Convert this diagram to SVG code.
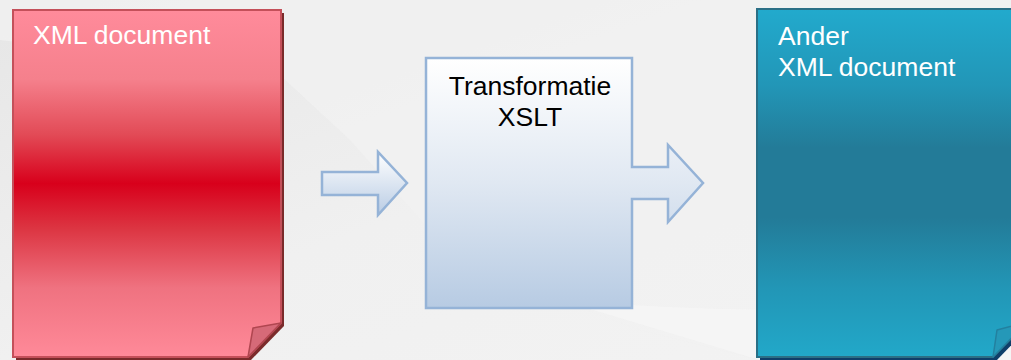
<svg xmlns="http://www.w3.org/2000/svg" width="1011" height="360" viewBox="0 0 1011 360">
  <defs>
    <linearGradient id="bg" x1="0" y1="0" x2="1" y2="1">
      <stop offset="0" stop-color="#e6e6e6"/>
      <stop offset="0.5" stop-color="#f0f0f0"/>
      <stop offset="1" stop-color="#f3f3f3"/>
    </linearGradient>
    <linearGradient id="redG" gradientUnits="userSpaceOnUse" x1="0" y1="10" x2="0" y2="357">
      <stop offset="0" stop-color="#ff8b9b"/>
      <stop offset="0.2" stop-color="#f5808c"/>
      <stop offset="0.36" stop-color="#e24a56"/>
      <stop offset="0.5" stop-color="#d8001b"/>
      <stop offset="0.63" stop-color="#dc3542"/>
      <stop offset="0.8" stop-color="#ef7280"/>
      <stop offset="1" stop-color="#ff8a99"/>
    </linearGradient>
    <linearGradient id="blueG" gradientUnits="userSpaceOnUse" x1="0" y1="9" x2="0" y2="357">
      <stop offset="0" stop-color="#22aacd"/>
      <stop offset="0.22" stop-color="#2296b7"/>
      <stop offset="0.4" stop-color="#237b98"/>
      <stop offset="0.6" stop-color="#237b98"/>
      <stop offset="0.8" stop-color="#2296b6"/>
      <stop offset="1" stop-color="#22a8c9"/>
    </linearGradient>
    <linearGradient id="boxG" gradientUnits="userSpaceOnUse" x1="0" y1="58" x2="0" y2="308">
      <stop offset="0" stop-color="#ffffff"/>
      <stop offset="0.5" stop-color="#e0e8f2"/>
      <stop offset="1" stop-color="#b7cbe3"/>
    </linearGradient>
    <linearGradient id="arrG" gradientUnits="userSpaceOnUse" x1="0" y1="152" x2="0" y2="215">
      <stop offset="0" stop-color="#ffffff"/>
      <stop offset="1" stop-color="#b9cce4"/>
    </linearGradient>
    <style>
      .lbl { font-family: "Liberation Sans", Arial, sans-serif; font-size: 26.5px; }
      .white { fill: #ffffff; }
      .dark { fill: #000000; }
      .boxline { stroke: #95b3d7; stroke-width: 2.5; stroke-linejoin: miter; }
    </style>
  </defs>

  <!-- background -->
  <rect x="0" y="0" width="1011" height="360" fill="url(#bg)"/>
  <polygon points="0,0 1011,0 1011,360 760,360 640,330 560,300 470,260 430,230 350,140 280,75 0,40" fill="#f1f1f1" opacity="0.8"/>
  <path d="M560,300 Q660,330 760,360 L1011,360 L1011,300 Q800,320 560,300 Z" fill="#f6f6f6" opacity="0.7"/>

  <!-- red document -->
  <g id="xml-document">
    <path d="M16,13 H284 V326 L251,360 H16 Z" fill="#7a2b2b"/>
    <path d="M13,10 H281 V323 L248,357 H13 Z" fill="url(#redG)" stroke="#c4505a" stroke-width="2"/>
    <path d="M281,323 L253,328 L248,357 Z" fill="#d66a78" stroke="#b04650" stroke-width="1.5" stroke-linejoin="round"/>
    <text class="lbl white" x="33" y="44">XML document</text>
  </g>

  <!-- connectors -->
  <g id="connectors">
    <path d="M322,172 H378 V152 L407,183 L378,215 V195 H322 Z" fill="url(#arrG)" class="boxline"/>
  </g>

  <!-- transformation box (with outgoing arrow) -->
  <g id="transformatie">
    <path d="M426,58 H632 V167 H668 V145 L703,183 L668,222 V199 H632 V308 H426 Z" fill="url(#boxG)" class="boxline"/>
    <text class="lbl dark" x="530" y="95" text-anchor="middle">Transformatie</text>
    <text class="lbl dark" x="530" y="126" text-anchor="middle">XSLT</text>
  </g>

  <!-- blue document -->
  <g id="ander-xml-document">
    <path d="M760,12 H1030 V326 L996,361 H760 Z" fill="#0f3f6a"/>
    <path d="M757,9 H1027 V322 L993,357 H757 Z" fill="url(#blueG)" stroke="#2b6f86" stroke-width="2"/>
    <path d="M1027,322 L997,330 L993,357 Z" fill="#2598b8" stroke="#23809f" stroke-width="1.5" stroke-linejoin="round"/>
    <text class="lbl white" x="778" y="45">Ander</text>
    <text class="lbl white" x="778" y="76">XML document</text>
  </g>
</svg>
